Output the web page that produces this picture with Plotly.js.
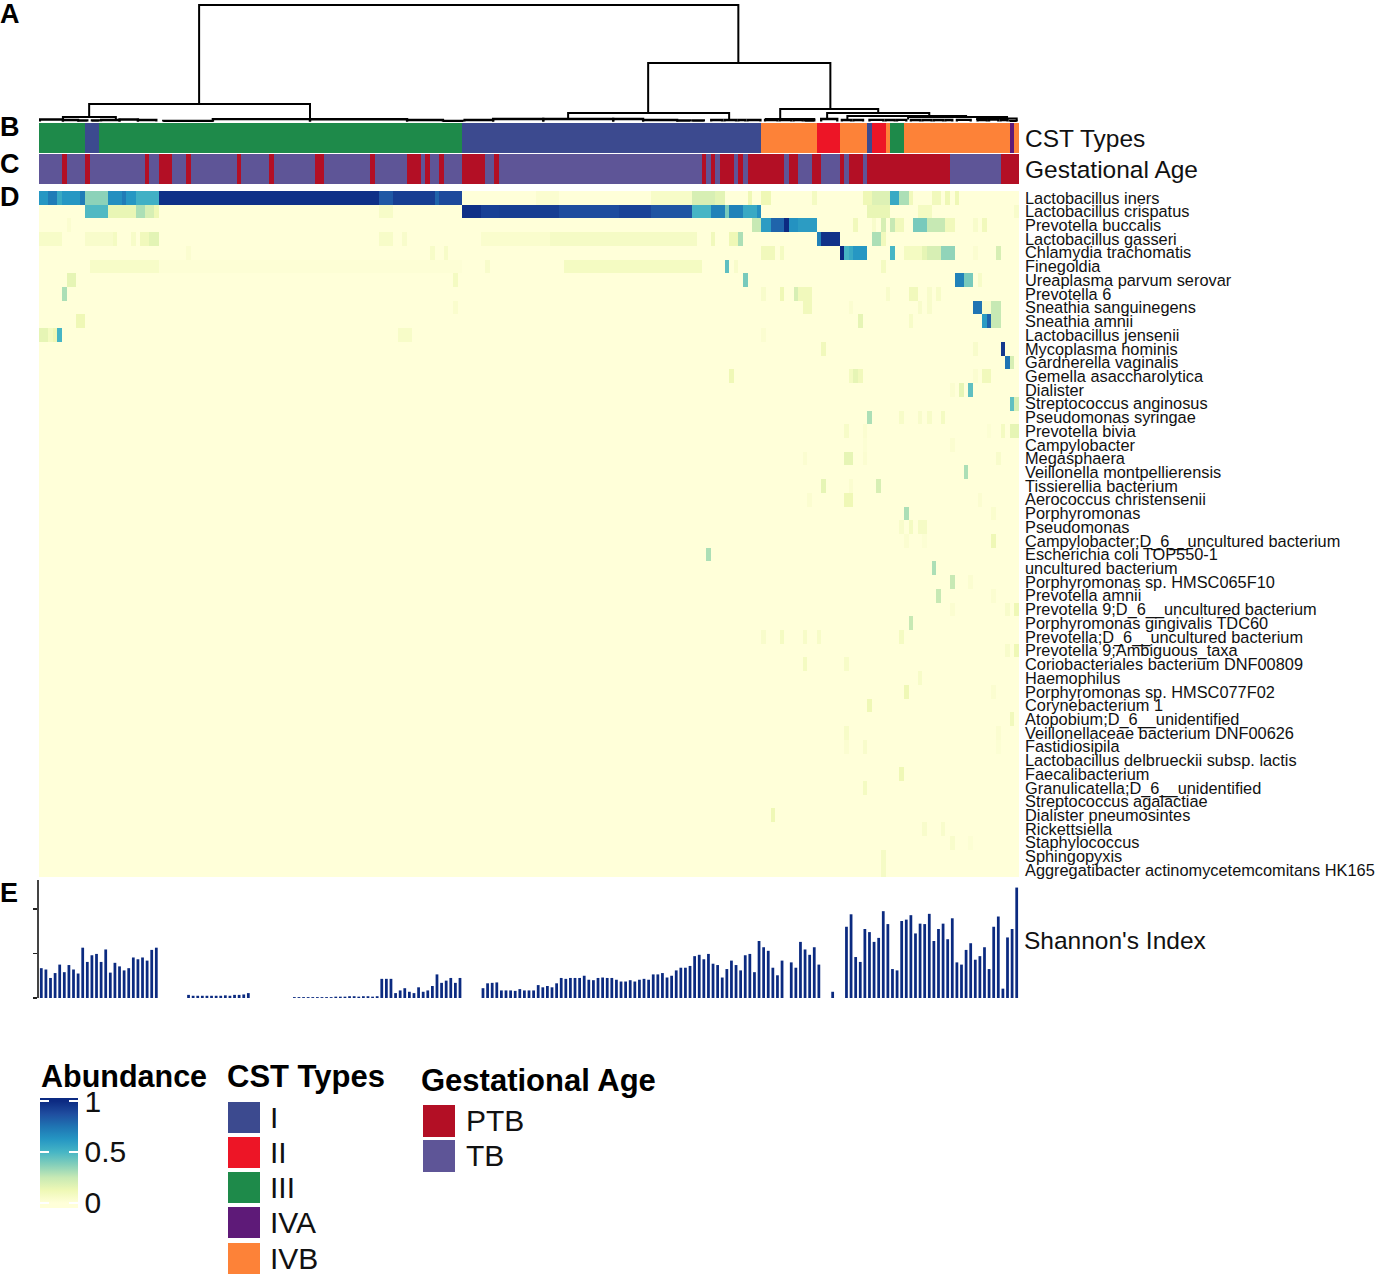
<!DOCTYPE html>
<html>
<head>
<meta charset="utf-8">
<script src="https://cdn.plot.ly/plotly-3.0.1.min.js"></script>
<style>html,body{margin:0;padding:0;background:#fff}</style>
</head>
<body>
<div id="chart" style="width:1376px;height:1275px"></div>
<script>
const taxa = ["Lactobacillus iners","Lactobacillus crispatus","Prevotella buccalis","Lactobacillus gasseri","Chlamydia trachomatis","Finegoldia","Ureaplasma parvum serovar","Prevotella 6","Sneathia sanguinegens","Sneathia amnii","Lactobacillus jensenii","Mycoplasma hominis","Gardnerella vaginalis","Gemella asaccharolytica","Dialister","Streptococcus anginosus","Pseudomonas syringae","Prevotella bivia","Campylobacter","Megasphaera","Veillonella montpellierensis","Tissierellia bacterium","Aerococcus christensenii","Porphyromonas","Pseudomonas","Campylobacter;D_6__uncultured bacterium","Escherichia coli TOP550-1","uncultured bacterium","Porphyromonas sp. HMSC065F10","Prevotella amnii","Prevotella 9;D_6__uncultured bacterium","Porphyromonas gingivalis TDC60","Prevotella;D_6__uncultured bacterium","Prevotella 9;Ambiguous_taxa","Coriobacteriales bacterium DNF00809","Haemophilus","Porphyromonas sp. HMSC077F02","Corynebacterium 1","Atopobium;D_6__unidentified","Veillonellaceae bacterium DNF00626","Fastidiosipila","Lactobacillus delbrueckii subsp. lactis","Faecalibacterium","Granulicatella;D_6__unidentified","Streptococcus agalactiae","Dialister pneumosintes","Rickettsiella","Staphylococcus","Sphingopyxis","Aggregatibacter actinomycetemcomitans HK165"];

// Abundance per taxon as [first column, last column, value]; all other cells are 0.
const rowIners = [[0,1,.62],[2,3,.72],[4,4,.55],[5,8,.62],[9,9,.72],[10,14,.36],[15,17,.65],[18,18,.72],[19,20,.62],[21,25,.52],[26,73,.98],[74,76,.84],[77,85,.93],[86,86,.8],[87,91,.89],[108,112,.03],[133,141,.06],[142,146,.2],[147,148,.16],[154,154,.12],[157,158,.12],[168,168,.08],[179,180,.12],[181,184,.18],[185,186,.55],[187,188,.3],[189,189,.1],[194,195,.1],[197,197,.12],[199,199,.12]];
const rowCrispatus = [[10,14,.48],[15,20,.14],[21,22,.3],[23,24,.2],[25,25,.12],[74,76,.06],[92,95,.98],[96,99,.92],[100,112,.93],[113,125,.88],[126,132,.91],[133,141,.85],[142,145,.5],[146,148,.7],[149,149,.4],[150,152,.7],[153,155,.55],[156,156,.65],[180,184,.14],[191,193,.08],[212,212,.05]];
const rowBuccalis = [[6,6,.03],[155,156,.25],[157,158,.6],[159,161,.8],[162,162,1],[163,164,.64],[165,168,.6],[177,177,.1],[181,181,.05],[183,183,.2],[185,185,.25],[186,187,.1],[190,192,.4],[193,196,.25],[197,198,.1],[203,203,.05],[205,205,.1]];
const rowGasseri = [[0,4,.06],[10,15,.05],[16,16,.08],[20,20,.06],[22,23,.1],[24,25,.16],[74,76,.06],[79,79,.05],[96,110,.04],[111,142,.07],[146,146,.1],[150,151,.12],[152,152,.3],[169,169,.7],[170,173,.97],[181,182,.3],[183,183,.1]];
const rowChlamydia = [[32,32,.03],[85,85,.06],[88,88,.06],[157,159,.1],[161,161,.08],[174,174,1],[175,175,.5],[176,176,.55],[177,179,.62],[185,185,.5],[188,191,.08],[192,192,.15],[193,195,.2],[196,198,.35],[203,203,.03],[208,208,.2]];
const rowFinegoldia = [[11,25,.06],[26,91,.015],[97,97,.05],[114,143,.08],[149,149,.45],[151,151,.05],[183,183,.08]];
const rowUreaplasma = [[6,7,.15],[90,90,.08],[153,153,.4],[199,200,.7],[201,202,.4],[204,204,.06]];
const rowPrevotella6 = [[5,5,.3],[157,157,.05],[161,161,.12],[164,164,.2],[165,167,.1],[184,184,.05],[189,190,.1],[193,193,.05],[195,195,.06]];
const rowSanguinegens = [[90,90,.04],[166,167,.1],[176,176,.03],[191,191,.05],[193,193,.05],[203,204,.75],[205,206,.05],[207,208,.25]];
const rowAmnii = [[8,9,.12],[178,178,.15],[189,189,.06],[205,205,.6],[206,206,.8],[207,208,.25]];
const rowJensenii = [[0,1,.15],[2,2,.08],[3,3,.12],[4,4,.5],[78,80,.06],[157,157,.03]];
const rowHominis = [[170,170,.1],[203,203,.05],[209,209,.95]];
const rowGardnerella = [[210,210,.75],[211,211,.2]];
const rowGemella = [[150,150,.12],[176,176,.08],[177,177,.15],[178,178,.1],[203,203,.03],[205,206,.1]];
const rowDialister = [[198,198,.03],[200,200,.15],[202,202,.45]];
const rowAnginosus = [[211,211,.45],[212,212,.2]];
const rowSyringae = [[180,180,.3],[187,187,.06],[191,191,.05],[193,193,.06],[196,196,.08]];
const rowBivia = [[175,175,.06],[179,179,.03],[206,206,.02],[209,209,.08],[211,212,.15]];
const rowCampylobacter = [[179,179,.02],[198,198,.03]];
const rowMegasphaera = [[166,166,.03],[175,176,.15],[179,179,.03],[208,208,.05]];
const rowVeillonella = [[201,201,.3]];
const rowTissierellia = [[170,170,.15],[176,176,.03],[182,182,.2]];
const rowAerococcus = [[167,167,.03],[175,176,.12],[204,204,.03]];
const rowPorphyromonas = [[188,188,.3],[207,207,.04]];
const rowPseudomonas = [[187,187,.05],[189,189,.08],[191,192,.07]];
const rowCampyUncultured = [[188,188,.03],[192,192,.02],[207,207,.12]];
const rowEcoli = [[145,145,.3]];
const rowUncultured = [[194,194,.3]];
const rowPorph065 = [[198,198,.25],[202,202,.03]];
const rowPrevAmnii = [[195,195,.25],[207,207,.03]];
const rowPrev9Uncultured = [[198,198,.03],[210,210,.05],[212,212,.12]];
const rowGingivalis = [[189,189,.25]];
const rowPrevUncultured = [[157,157,.05],[161,161,.08],[166,166,.06],[169,169,.06],[187,187,.08]];
const rowPrev9Ambiguous = [[210,210,.05],[212,212,.12]];
const rowCoriobacteriales = [[166,166,.08],[175,175,.06]];
const rowHaemophilus = [[191,191,.06]];
const rowPorph077 = [[188,188,.12],[207,207,.03]];
const rowCorynebacterium = [[180,180,.12]];
const rowAtopobium = [[211,211,.1]];
const rowVeillonellaceae = [[175,175,.06],[208,208,.03]];
const rowFastidiosipila = [[175,175,.03],[179,179,.05],[208,208,.02]];
const rowDelbrueckii = [];
const rowFaecalibacterium = [[187,187,.12]];
const rowGranulicatella = [[179,179,.08]];
const rowAgalactiae = [];
const rowPneumosintes = [[159,159,.12]];
const rowRickettsiella = [[192,192,.05],[196,196,.05]];
const rowStaphylococcus = [[198,198,.05],[202,202,.02]];
const rowSphingopyxis = [[183,183,.07]];
const rowAggregatibacter = [[183,183,.07]];
const taxonRows = [rowIners,rowCrispatus,rowBuccalis,rowGasseri,rowChlamydia,rowFinegoldia,rowUreaplasma,rowPrevotella6,rowSanguinegens,rowAmnii,rowJensenii,rowHominis,rowGardnerella,rowGemella,rowDialister,rowAnginosus,rowSyringae,rowBivia,rowCampylobacter,rowMegasphaera,rowVeillonella,rowTissierellia,rowAerococcus,rowPorphyromonas,rowPseudomonas,rowCampyUncultured,rowEcoli,rowUncultured,rowPorph065,rowPrevAmnii,rowPrev9Uncultured,rowGingivalis,rowPrevUncultured,rowPrev9Ambiguous,rowCoriobacteriales,rowHaemophilus,rowPorph077,rowCorynebacterium,rowAtopobium,rowVeillonellaceae,rowFastidiosipila,rowDelbrueckii,rowFaecalibacterium,rowGranulicatella,rowAgalactiae,rowPneumosintes,rowRickettsiella,rowStaphylococcus,rowSphingopyxis,rowAggregatibacter];

const shannonIndex = [
 .67,.64,.45,.56,.75,.58,.74,.64,.55,1.13,.81,.96,.99,.81,1.09,.57,.79,.71,.62,.67,.91,.87,.91,.84,1.08,1.13,
 0,0,0,0,0,0,
 .07,.05,.05,.05,.05,.05,.05,.05,.06,.05,.07,.07,.08,.11,
 0,0,0,0,0,0,0,0,0,
 .02,.02,.02,.02,.02,.02,.02,.02,.02,.03,.03,.03,.04,.04,.03,.04,.04,.03,.04,
 .43,.43,.43,.11,.17,.22,.14,.11,.24,.14,.17,.27,.53,.34,.39,.45,.34,.45,
 0,0,0,0,
 .22,.33,.34,.35,
 .17,.17,.17,.16,.2,.17,.17,.17,.29,.24,
 .27,.24,.33,.45,.43,.45,.45,.45,.5,.41,
 .4,.45,.46,.45,.45,.41,.37,.37,.4,.37,
 .41,.43,.41,.53,.53,.56,.46,.5,.62,.68,
 .68,.72,.94,.97,.87,.99,.77,.74,.46,.65,
 .84,.74,.62,.96,.99,.58,1.28,1.14,1.06,.68,
 .51,.84,0,.8,.68,1.26,1.09,.97,1.14,.75,
 0,0,.14,0,0,1.6,1.88,.92,.81,1.55,
 1.48,1.26,1.35,1.95,1.66,.65,.62,1.73,1.76,1.86,
 1.45,1.67,1.66,1.89,1.28,1.55,1.67,1.32,1.79,.8,
 .75,1.08,1.23,.86,.94,1.14,.65,1.6,1.83,.21,
 1.36,1.55,2.48];

const cstLabels = ["I","II","III","IVA","IVB"];
const cstColors = ["#3c4a8f","#ed1526","#1e8a4a","#5e1a78","#fd8238"];
const cstRunTypes = ["III","I","III","I","IVB","II","IVB","I","II","IVB","III","IVB","IVA","IVB"];
const cstRunLengths = [10,3,79,65,12,5,6,1,3,1,3,23,1,1];

const gestLabels = ["PTB","TB"];
const gestColors = ["#b30f25","#5e5597"];
const ptbRuns = [[5,5],[10,10],[23,23],[26,28],[32,32],[43,43],[50,50],[60,61],[72,72],[80,82],[84,84],[87,87],[92,96],[99,99],[144,144],[146,146],[148,150],[152,152],[154,161],[163,164],[168,169],[174,174],[176,178],[180,197],[209,212]];

const abundanceTicks = [0,0.5,1];
const abundanceStops = [0,.125,.25,.375,.5,.625,.75,.875,1];
const abundanceColors = ["#ffffd9","#eef8b5","#c7e9b4","#84cfba","#46b5c5","#2596c3","#1f74b3","#1f4d9f","#0c2a82"];

// Dendrogram merges: left, right (column units), height, and where each leg stops.
const mergeLeft   = [34.3,10.4,4.7,37.3,131.9,114.5,160.6,157.5,170.8,175.2,188.4,203.4];
const mergeRight  = [151.5,58.4,16.2,79.5,171.5,149.5,181.9,168,193,201,209.9,212];
const mergeHeight = [117,18,5,3,59,9,13,3,9,6,5,3.5];
const mergeLegL   = [18,5,2,1.5,9,3,3,2,2,2,2.5,2];
const mergeLegR   = [59,3,2,2,13,2.5,9,2,6,5,3.5,2];
const lowLeft   = [-.3,4.7,8,11,13,17,21,26.5,37.3,58.4,79.5,87.3,92,98.2,109.1,124.3,130.8,138.2,141.5,145.6,148.5,151.5,153.5,157.3,160.5,163.5,166,169.5,174,176.5,180,183.5,186,189,191.5,194,196.5,199,203.5,206,208.5,210.5];
const lowRight  = [4.7,8,10,12.5,17,21,25,37.3,58.4,79.5,87.3,91.7,98.2,109.1,124.3,130.8,138.2,141,144,148,151,153,156.3,160,163,165.5,168,173,176,178.6,183,185.5,188,191,193.5,196,198,202,205.5,208,210,212];
const lowHeight = [2.5,2,1.5,1.5,2,2.5,2,1.2,2.8,2.6,2,1.2,2,3,3,3,2,1.5,1.5,2,2,2,2,2,2,2,1.5,3,2,2,2.2,2,2.2,2,2,2,2,2.2,2,2.5,2,1.2];

const nCols = shannonIndex.length;
const columns = shannonIndex.map((_, i) => i);
const W = 1376, H = 1275;
const px = x => x / W;
const py = y => 1 - y / H;
const dom = (top, bottom) => [py(bottom), py(top)];

const abundance = taxa.map((_, r) => {
  const row = new Array(nCols).fill(0);
  taxonRows[r].forEach(([a, b, v]) => { for (let c = a; c <= b; c++) row[c] = v; });
  return row;
});
const cstCodes = [];
cstRunTypes.forEach((t, i) => { for (let k = 0; k < cstRunLengths[i]; k++) cstCodes.push(cstLabels.indexOf(t)); });
const gestCodes = new Array(nCols).fill(1);
ptbRuns.forEach(([a, b]) => { for (let c = a; c <= b; c++) gestCodes[c] = 0; });

const stepScale = colors => {
  const s = [];
  colors.forEach((c, i) => { s.push([i / colors.length, c], [(i + 1) / colors.length, c]); });
  return s;
};

const zMin = -0.05, zMax = 1.03;
const abundanceScale = [[0, abundanceColors[0]]].concat(
  abundanceStops.map((v, i) => [(v - zMin) / (zMax - zMin), abundanceColors[i]]),
  [[1, abundanceColors[abundanceColors.length - 1]]]);

const treeX = [], treeY = [];
mergeLeft.forEach((l, i) => {
  treeX.push(l, l, mergeRight[i], mergeRight[i], null);
  treeY.push(mergeLegL[i], mergeHeight[i], mergeHeight[i], mergeLegR[i], null);
});
const lowX = [], lowY = [];
lowLeft.forEach((l, i) => {
  lowX.push(l, l, lowRight[i], lowRight[i], null);
  lowY.push(0.6, lowHeight[i], lowHeight[i], 0.6, null);
});

const colorbarBase = {thicknessmode:'pixels', lenmode:'pixels', len:110,
  x:px(40), xanchor:'left', xpad:0, y:py(1098), yanchor:'top', ypad:0,
  tickmode:'array', tickvals:abundanceTicks, ticktext:abundanceTicks.map(String),
  ticks:'inside', ticklen:9, tickwidth:2, tickcolor:'#ffffff', outlinewidth:0,
  tickfont:{family:'Liberation Sans', size:30, color:'#111'}};

const traces = [
  {type:'heatmap', x:columns, y:taxa, z:abundance, xaxis:'x', yaxis:'y',
   colorscale:abundanceScale, zmin:zMin, zmax:zMax, showscale:true,
   colorbar:Object.assign({}, colorbarBase, {thickness:38})},
  {type:'heatmap', x:columns, y:['CST Types'], z:[cstCodes], xaxis:'x', yaxis:'y2',
   colorscale:stepScale(cstColors), zmin:-0.5, zmax:cstColors.length-0.5, showscale:false},
  {type:'heatmap', x:columns, y:['Gestational Age'], z:[gestCodes], xaxis:'x', yaxis:'y3',
   colorscale:stepScale(gestColors), zmin:-0.5, zmax:gestColors.length-0.5, showscale:false},
  {type:'scatter', mode:'lines', x:treeX, y:treeY, xaxis:'x', yaxis:'y4',
   line:{color:'#000', width:2}, hoverinfo:'skip', connectgaps:false},
  {type:'scatter', mode:'lines', x:lowX, y:lowY, xaxis:'x', yaxis:'y4',
   line:{color:'#000', width:2.3}, hoverinfo:'skip', connectgaps:false},
  {type:'bar', x:columns, y:shannonIndex, xaxis:'x', yaxis:'y5',
   marker:{color:'#0b2a80', line:{width:0}}},
  // Second, narrow colour bar laid over the left edge: it gives the white dashes on the bar's left side.
  {type:'scatter', mode:'markers', x:[0], y:[-1], xaxis:'x', yaxis:'y5', hoverinfo:'skip',
   marker:{size:1, color:[0], colorscale:abundanceScale, cmin:zMin, cmax:zMax, showscale:true,
     colorbar:Object.assign({}, colorbarBase, {thickness:9, showticklabels:false})}}
];

const fontBase = {family:'Liberation Sans', color:'#111'};
const rightAxis = (top, bottom) => ({domain:dom(top,bottom), anchor:'x', side:'right', ticks:'', showgrid:false, zeroline:false, showline:false,
  tickfont:Object.assign({size:24.5}, fontBase), ticklabelstandoff:5, automargin:false});

const annotations = [];
const shapes = [];
const text = (s, x, y, size, bold) => annotations.push({xref:'paper', yref:'paper', x:px(x), y:py(y), xanchor:'left', yanchor:'middle',
  text: bold ? '<b>'+s+'</b>' : s, showarrow:false, borderpad:0, font:Object.assign({size:size}, fontBase, bold?{color:'#000'}:{})});
const swatch = (color, x0, y0, x1, y1) => shapes.push({type:'rect', xref:'paper', yref:'paper', x0:px(x0), x1:px(x1), y0:py(y1), y1:py(y0), fillcolor:color, line:{width:0}});

[['A',14],['B',127],['C',164],['D',197],['E',893]].forEach(([l,y]) => text(l, -1, y, 27, true));
text("Shannon's Index", 1023, 940, 24.5, false);
text('Abundance', 40, 1076, 30.5, true);
text('CST Types', 225.5, 1076, 31, true);
text('Gestational Age', 420, 1080, 31, true);
const cstTop = [1102,1137,1172,1207,1243];
cstLabels.forEach((l,i) => { swatch(cstColors[i], 228, cstTop[i], 260, cstTop[i]+31); text(l, 269, cstTop[i]+15, 30, false); });
const gestTop = [1105,1140];
gestLabels.forEach((l,i) => { swatch(gestColors[i], 423, gestTop[i], 455, gestTop[i]+32); text(l, 465, gestTop[i]+15, 30, false); });

const layout = {
  width:W, height:H, autosize:false, margin:{l:0,r:0,t:0,b:0,pad:0},
  paper_bgcolor:'#fff', plot_bgcolor:'#fff', showlegend:false, bargap:0.4,
  font:fontBase,
  xaxis:{domain:[px(39),px(1019)], range:[-0.5,nCols-0.5], visible:false, anchor:'y'},
  yaxis:Object.assign(rightAxis(191,877), {autorange:false, range:[49.5,-0.5], type:'category',
    tickmode:'array', tickvals:taxa, ticktext:taxa, tickfont:Object.assign({size:16.35}, fontBase)}),
  yaxis2:Object.assign(rightAxis(123,153), {type:'category', tickmode:'array', tickvals:['CST Types'], ticktext:['CST Types']}),
  yaxis3:Object.assign(rightAxis(154,184), {type:'category', tickmode:'array', tickvals:['Gestational Age'], ticktext:['Gestational Age']}),
  yaxis4:{domain:dom(0,122), anchor:'x', range:[0,122], visible:false},
  yaxis5:{domain:dom(880,998), anchor:'x', range:[0,2.65], tickmode:'array', tickvals:[0,1,2], ticks:'outside', ticklen:4, tickwidth:1.5, tickcolor:'#222',
    showticklabels:false, showline:true, linecolor:'#444', linewidth:2, showgrid:false, zeroline:false},
  annotations:annotations, shapes:shapes
};
Plotly.newPlot('chart', traces, layout, {displayModeBar:false, staticPlot:true});
</script>
</body>
</html>
